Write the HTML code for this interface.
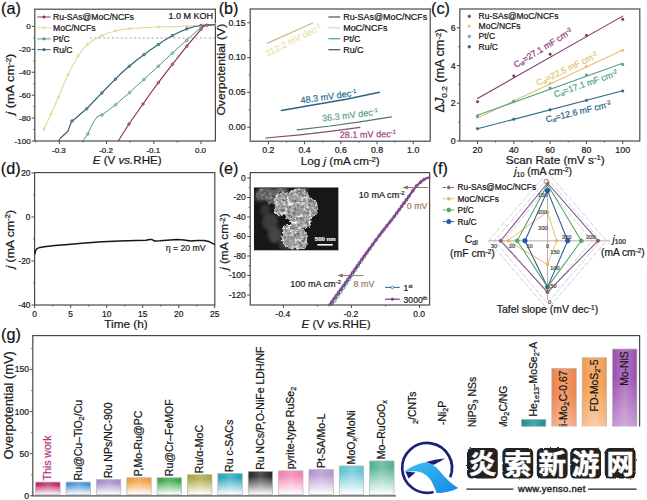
<!DOCTYPE html>
<html><head><meta charset="utf-8"><title>figure</title>
<style>
html,body{margin:0;padding:0;background:#ffffff;}
body{width:647px;height:500px;overflow:hidden;}
svg{display:block;font-family:'Liberation Sans', sans-serif;}
text{stroke-width:0.22px;paint-order:stroke fill;}
</style></head><body>
<svg width="647" height="500" viewBox="0 0 647 500">
<rect x="0" y="0" width="647" height="500" fill="#ffffff"/>
<defs>
<clipPath id="semclip"><rect x="253.8" y="187.3" width="84.8" height="63.3"/></clipPath>
<filter id="semblur" x="-20%" y="-20%" width="140%" height="140%"><feGaussianBlur stdDeviation="1.6"/></filter>
<filter id="semtex" x="-10%" y="-10%" width="120%" height="120%" color-interpolation-filters="sRGB">
<feTurbulence type="fractalNoise" baseFrequency="0.33" numOctaves="3" seed="5" result="n"/>
<feDisplacementMap in="SourceGraphic" in2="n" scale="4.5" xChannelSelector="R" yChannelSelector="G" result="d"/>
<feGaussianBlur in="d" stdDeviation="0.55" result="db"/>
<feColorMatrix in="n" type="matrix" values="1.5 0 0 0 -0.25  1.5 0 0 0 -0.25  1.5 0 0 0 -0.25  0 0 0 0 1" result="ng"/>
<feComposite in="db" in2="ng" operator="arithmetic" k1="0.85" k2="0.68" k3="0" k4="0" result="m"/>
<feComposite in="m" in2="db" operator="in"/>
</filter>
<filter id="rough" x="-5%" y="-5%" width="110%" height="110%">
<feTurbulence type="fractalNoise" baseFrequency="0.22" numOctaves="2" seed="11" result="rn"/>
<feDisplacementMap in="SourceGraphic" in2="rn" scale="2.2" xChannelSelector="R" yChannelSelector="G"/>
</filter>
<linearGradient id="sheen" x1="0" y1="0" x2="1" y2="0"><stop offset="0" stop-color="#fff" stop-opacity="0"/><stop offset="0.5" stop-color="#fff" stop-opacity="0.22"/><stop offset="1" stop-color="#fff" stop-opacity="0"/></linearGradient>
</defs>
<rect x="34.8" y="9.2" width="180.60000000000002" height="131.8" fill="none" stroke="#4a4a4a" stroke-width="1.2"/>
<text x="1.00" y="14.00" font-size="16.2" fill="#111" stroke="#111" text-anchor="start" >(a)</text>
<line x1="31.80" y1="26.40" x2="34.80" y2="26.40" stroke="#4a4a4a" stroke-width="1" />
<text x="30.60" y="29.10" font-size="8.0" fill="#1a1a1a" stroke="#1a1a1a" text-anchor="end" >0</text>
<line x1="31.80" y1="49.32" x2="34.80" y2="49.32" stroke="#4a4a4a" stroke-width="1" />
<text x="30.60" y="52.02" font-size="8.0" fill="#1a1a1a" stroke="#1a1a1a" text-anchor="end" >-20</text>
<line x1="31.80" y1="72.24" x2="34.80" y2="72.24" stroke="#4a4a4a" stroke-width="1" />
<text x="30.60" y="74.94" font-size="8.0" fill="#1a1a1a" stroke="#1a1a1a" text-anchor="end" >-40</text>
<line x1="31.80" y1="95.16" x2="34.80" y2="95.16" stroke="#4a4a4a" stroke-width="1" />
<text x="30.60" y="97.86" font-size="8.0" fill="#1a1a1a" stroke="#1a1a1a" text-anchor="end" >-60</text>
<line x1="31.80" y1="118.08" x2="34.80" y2="118.08" stroke="#4a4a4a" stroke-width="1" />
<text x="30.60" y="120.78" font-size="8.0" fill="#1a1a1a" stroke="#1a1a1a" text-anchor="end" >-80</text>
<line x1="31.80" y1="141.00" x2="34.80" y2="141.00" stroke="#4a4a4a" stroke-width="1" />
<text x="30.60" y="143.70" font-size="8.0" fill="#1a1a1a" stroke="#1a1a1a" text-anchor="end" >-100</text>
<line x1="33.20" y1="37.86" x2="34.80" y2="37.86" stroke="#4a4a4a" stroke-width="0.8" />
<line x1="33.20" y1="60.78" x2="34.80" y2="60.78" stroke="#4a4a4a" stroke-width="0.8" />
<line x1="33.20" y1="83.70" x2="34.80" y2="83.70" stroke="#4a4a4a" stroke-width="0.8" />
<line x1="33.20" y1="106.62" x2="34.80" y2="106.62" stroke="#4a4a4a" stroke-width="0.8" />
<line x1="33.20" y1="129.54" x2="34.80" y2="129.54" stroke="#4a4a4a" stroke-width="0.8" />
<line x1="59.40" y1="141.00" x2="59.40" y2="144.00" stroke="#4a4a4a" stroke-width="1" />
<text x="58.90" y="152.80" font-size="8.0" fill="#1a1a1a" stroke="#1a1a1a" text-anchor="middle" >-0.3</text>
<line x1="106.60" y1="141.00" x2="106.60" y2="144.00" stroke="#4a4a4a" stroke-width="1" />
<text x="106.10" y="152.80" font-size="8.0" fill="#1a1a1a" stroke="#1a1a1a" text-anchor="middle" >-0.2</text>
<line x1="153.80" y1="141.00" x2="153.80" y2="144.00" stroke="#4a4a4a" stroke-width="1" />
<text x="153.30" y="152.80" font-size="8.0" fill="#1a1a1a" stroke="#1a1a1a" text-anchor="middle" >-0.1</text>
<line x1="201.00" y1="141.00" x2="201.00" y2="144.00" stroke="#4a4a4a" stroke-width="1" />
<text x="200.50" y="152.80" font-size="8.0" fill="#1a1a1a" stroke="#1a1a1a" text-anchor="middle" >0.0</text>
<line x1="35.80" y1="141.00" x2="35.80" y2="142.60" stroke="#4a4a4a" stroke-width="0.8" />
<line x1="83.00" y1="141.00" x2="83.00" y2="142.60" stroke="#4a4a4a" stroke-width="0.8" />
<line x1="130.20" y1="141.00" x2="130.20" y2="142.60" stroke="#4a4a4a" stroke-width="0.8" />
<line x1="177.40" y1="141.00" x2="177.40" y2="142.60" stroke="#4a4a4a" stroke-width="0.8" />
<text x="127.20" y="164.40" font-size="11.6" fill="#1a1a1a" stroke="#1a1a1a" text-anchor="middle" ><tspan font-style="italic">E</tspan> (V <tspan font-style="italic">vs.</tspan>RHE)</text>
<text x="14.40" y="84.20" font-size="11" fill="#1a1a1a" stroke="#1a1a1a" text-anchor="middle" transform="rotate(-90 14.40 84.20)" textLength="61.2" lengthAdjust="spacingAndGlyphs" ><tspan font-style="italic">j</tspan> (mA cm<tspan dy="-3.4" font-size="62%">-2</tspan><tspan dy="3.4">&#8203;</tspan>)</text>
<line x1="90.00" y1="38.00" x2="215.40" y2="38.00" stroke="#9c9c9c" stroke-width="0.9" stroke-dasharray="2 2.4"/>
<path d="M44.00,129.00 L47.50,121.50 L51.00,114.00 L54.70,105.50 L58.50,97.00 L63.00,86.00 L68.00,74.80 L73.00,64.80 L78.00,56.00 L83.00,49.20 L87.80,44.00 L95.00,39.00 L102.00,35.60 L108.00,33.00 L115.40,31.00 L122.00,29.70 L129.70,28.70 L144.00,27.60 L158.40,27.00 L172.00,26.60 L186.80,26.20 L201.00,25.30 L215.00,24.60" fill="none" stroke="#e8da9e" stroke-width="1.2" stroke-linejoin="round" stroke-linecap="round" />
<circle cx="44.00" cy="129.00" r="1.2" fill="#e8da9e" stroke="#e8da9e" stroke-width="0.7"/>
<circle cx="51.00" cy="114.00" r="1.2" fill="#e8da9e" stroke="#e8da9e" stroke-width="0.7"/>
<circle cx="58.50" cy="97.00" r="1.2" fill="#e8da9e" stroke="#e8da9e" stroke-width="0.7"/>
<circle cx="68.00" cy="74.80" r="1.2" fill="#e8da9e" stroke="#e8da9e" stroke-width="0.7"/>
<circle cx="78.00" cy="56.00" r="1.2" fill="#e8da9e" stroke="#e8da9e" stroke-width="0.7"/>
<circle cx="87.80" cy="44.00" r="1.2" fill="#e8da9e" stroke="#e8da9e" stroke-width="0.7"/>
<circle cx="102.00" cy="35.60" r="1.2" fill="#e8da9e" stroke="#e8da9e" stroke-width="0.7"/>
<circle cx="115.40" cy="31.00" r="1.2" fill="#e8da9e" stroke="#e8da9e" stroke-width="0.7"/>
<circle cx="129.70" cy="28.70" r="1.2" fill="#e8da9e" stroke="#e8da9e" stroke-width="0.7"/>
<circle cx="158.40" cy="27.00" r="1.2" fill="#e8da9e" stroke="#e8da9e" stroke-width="0.7"/>
<circle cx="186.80" cy="26.20" r="1.2" fill="#e8da9e" stroke="#e8da9e" stroke-width="0.7"/>
<circle cx="215.00" cy="24.60" r="1.2" fill="#e8da9e" stroke="#e8da9e" stroke-width="0.7"/>
<path d="M58.50,141.00 L61.00,137.50 L65.00,134.00 L68.00,131.00 L69.50,127.00 L71.40,121.80 L76.00,118.00 L81.00,113.50 L86.70,108.80 L94.00,101.00 L101.90,92.90 L108.00,86.50 L115.40,79.20 L122.00,72.50 L129.30,66.20 L136.50,60.20 L144.00,54.70 L151.00,49.40 L158.40,44.50 L165.00,39.90 L172.40,35.60 L179.50,32.00 L186.80,28.90 L194.00,26.80 L201.00,25.50 L207.00,24.80 L215.00,24.50" fill="none" stroke="#2d5f78" stroke-width="1.15" stroke-linejoin="round" stroke-linecap="round" />
<circle cx="72.00" cy="121.00" r="1.3" fill="#6f97a8" stroke="#2d5f78" stroke-width="0.7"/>
<circle cx="86.70" cy="108.80" r="1.3" fill="#6f97a8" stroke="#2d5f78" stroke-width="0.7"/>
<circle cx="101.90" cy="92.90" r="1.3" fill="#6f97a8" stroke="#2d5f78" stroke-width="0.7"/>
<circle cx="115.40" cy="79.20" r="1.3" fill="#6f97a8" stroke="#2d5f78" stroke-width="0.7"/>
<circle cx="129.30" cy="66.20" r="1.3" fill="#6f97a8" stroke="#2d5f78" stroke-width="0.7"/>
<circle cx="144.00" cy="54.70" r="1.3" fill="#6f97a8" stroke="#2d5f78" stroke-width="0.7"/>
<circle cx="158.40" cy="44.50" r="1.3" fill="#6f97a8" stroke="#2d5f78" stroke-width="0.7"/>
<circle cx="172.40" cy="35.60" r="1.3" fill="#6f97a8" stroke="#2d5f78" stroke-width="0.7"/>
<circle cx="186.80" cy="28.90" r="1.3" fill="#6f97a8" stroke="#2d5f78" stroke-width="0.7"/>
<circle cx="201.00" cy="25.50" r="1.3" fill="#6f97a8" stroke="#2d5f78" stroke-width="0.7"/>
<path d="M82.70,141.00 L85.00,138.00 L87.80,134.00 L91.00,127.00 L94.00,121.00 L97.00,117.00 L100.00,115.60 L102.00,115.00 L108.00,110.50 L115.60,104.80 L122.00,99.00 L129.70,92.60 L136.50,86.00 L144.00,79.40 L151.00,72.80 L158.40,66.20 L165.00,59.80 L172.40,53.20 L179.50,46.60 L186.80,40.20 L194.00,33.60 L201.10,27.30 L205.00,25.20 L210.00,24.60 L215.00,24.50" fill="none" stroke="#4f9676" stroke-width="1.0" stroke-linejoin="round" stroke-linecap="round" />
<circle cx="87.80" cy="134.00" r="1.3" fill="#a6d2bd" stroke="#4f9676" stroke-width="0.7"/>
<circle cx="102.00" cy="115.00" r="1.3" fill="#a6d2bd" stroke="#4f9676" stroke-width="0.7"/>
<circle cx="115.60" cy="104.80" r="1.3" fill="#a6d2bd" stroke="#4f9676" stroke-width="0.7"/>
<circle cx="129.70" cy="92.60" r="1.3" fill="#a6d2bd" stroke="#4f9676" stroke-width="0.7"/>
<circle cx="144.00" cy="79.40" r="1.3" fill="#a6d2bd" stroke="#4f9676" stroke-width="0.7"/>
<circle cx="158.40" cy="66.20" r="1.3" fill="#a6d2bd" stroke="#4f9676" stroke-width="0.7"/>
<circle cx="172.40" cy="53.20" r="1.3" fill="#a6d2bd" stroke="#4f9676" stroke-width="0.7"/>
<circle cx="186.80" cy="40.20" r="1.3" fill="#a6d2bd" stroke="#4f9676" stroke-width="0.7"/>
<circle cx="201.10" cy="27.30" r="1.3" fill="#a6d2bd" stroke="#4f9676" stroke-width="0.7"/>
<path d="M118.40,141.00 L122.00,135.00 L125.50,129.50 L129.00,124.00 L136.00,114.00 L143.00,104.00 L150.00,94.00 L158.40,82.60 L165.00,73.80 L172.40,64.40 L179.50,55.40 L186.80,46.20 L194.00,37.60 L201.10,29.30 L203.60,26.40 L206.50,25.20 L215.00,25.00" fill="none" stroke="#8a2f5c" stroke-width="1.15" stroke-linejoin="round" stroke-linecap="round" />
<circle cx="129.00" cy="124.00" r="1.3" fill="#c77a9c" stroke="#8a2f5c" stroke-width="0.7"/>
<circle cx="143.00" cy="104.00" r="1.3" fill="#c77a9c" stroke="#8a2f5c" stroke-width="0.7"/>
<circle cx="158.40" cy="82.60" r="1.3" fill="#c77a9c" stroke="#8a2f5c" stroke-width="0.7"/>
<circle cx="172.40" cy="64.40" r="1.3" fill="#c77a9c" stroke="#8a2f5c" stroke-width="0.7"/>
<circle cx="186.80" cy="46.20" r="1.3" fill="#c77a9c" stroke="#8a2f5c" stroke-width="0.7"/>
<circle cx="201.10" cy="29.30" r="1.3" fill="#c77a9c" stroke="#8a2f5c" stroke-width="0.7"/>
<circle cx="207.00" cy="25.20" r="1.3" fill="#c77a9c" stroke="#8a2f5c" stroke-width="0.7"/>
<line x1="37.20" y1="17.00" x2="50.60" y2="17.00" stroke="#8a2f5c" stroke-width="0.95" />
<circle cx="44.00" cy="17.00" r="1.15" fill="#8a2f5c" stroke="#8a2f5c" stroke-width="0.7"/>
<text x="53.00" y="20.00" font-size="8.6" fill="#151515" stroke="#151515" text-anchor="start" >Ru-SAs@MoC/NCFs</text>
<line x1="37.20" y1="27.80" x2="50.60" y2="27.80" stroke="#e8da9e" stroke-width="0.95" />
<circle cx="44.00" cy="27.80" r="1.15" fill="#e8da9e" stroke="#e8da9e" stroke-width="0.7"/>
<text x="53.00" y="30.80" font-size="8.6" fill="#151515" stroke="#151515" text-anchor="start" >MoC/NCFs</text>
<line x1="37.20" y1="38.90" x2="50.60" y2="38.90" stroke="#4f9676" stroke-width="0.95" />
<circle cx="44.00" cy="38.90" r="1.15" fill="#4f9676" stroke="#4f9676" stroke-width="0.7"/>
<text x="53.00" y="41.90" font-size="8.6" fill="#151515" stroke="#151515" text-anchor="start" >Pt/C</text>
<line x1="37.20" y1="49.70" x2="50.60" y2="49.70" stroke="#2d5f78" stroke-width="0.95" />
<circle cx="44.00" cy="49.70" r="1.15" fill="#2d5f78" stroke="#2d5f78" stroke-width="0.7"/>
<text x="53.00" y="52.70" font-size="8.6" fill="#151515" stroke="#151515" text-anchor="start" >Ru/C</text>
<text x="213.00" y="19.00" font-size="9.0" fill="#151515" stroke="#151515" text-anchor="end" >1.0 M KOH</text>
<rect x="250.2" y="9.0" width="180.0" height="132.2" fill="none" stroke="#4a4a4a" stroke-width="1.2"/>
<text x="218.70" y="13.90" font-size="16.2" fill="#111" stroke="#111" text-anchor="start" >(b)</text>
<line x1="247.20" y1="127.20" x2="250.20" y2="127.20" stroke="#4a4a4a" stroke-width="1" />
<text x="245.60" y="129.90" font-size="8.8" fill="#1a1a1a" stroke="#1a1a1a" text-anchor="end" >0.00</text>
<line x1="247.20" y1="92.40" x2="250.20" y2="92.40" stroke="#4a4a4a" stroke-width="1" />
<text x="245.60" y="95.10" font-size="8.8" fill="#1a1a1a" stroke="#1a1a1a" text-anchor="end" >0.05</text>
<line x1="247.20" y1="57.60" x2="250.20" y2="57.60" stroke="#4a4a4a" stroke-width="1" />
<text x="245.60" y="60.30" font-size="8.8" fill="#1a1a1a" stroke="#1a1a1a" text-anchor="end" >0.10</text>
<line x1="247.20" y1="22.80" x2="250.20" y2="22.80" stroke="#4a4a4a" stroke-width="1" />
<text x="245.60" y="25.50" font-size="8.8" fill="#1a1a1a" stroke="#1a1a1a" text-anchor="end" >0.15</text>
<line x1="248.60" y1="109.80" x2="250.20" y2="109.80" stroke="#4a4a4a" stroke-width="0.8" />
<line x1="248.60" y1="75.00" x2="250.20" y2="75.00" stroke="#4a4a4a" stroke-width="0.8" />
<line x1="248.60" y1="40.20" x2="250.20" y2="40.20" stroke="#4a4a4a" stroke-width="0.8" />
<line x1="268.40" y1="141.20" x2="268.40" y2="144.20" stroke="#4a4a4a" stroke-width="1" />
<text x="268.40" y="153.20" font-size="8.8" fill="#1a1a1a" stroke="#1a1a1a" text-anchor="middle" >0.2</text>
<line x1="304.60" y1="141.20" x2="304.60" y2="144.20" stroke="#4a4a4a" stroke-width="1" />
<text x="304.60" y="153.20" font-size="8.8" fill="#1a1a1a" stroke="#1a1a1a" text-anchor="middle" >0.4</text>
<line x1="340.80" y1="141.20" x2="340.80" y2="144.20" stroke="#4a4a4a" stroke-width="1" />
<text x="340.80" y="153.20" font-size="8.8" fill="#1a1a1a" stroke="#1a1a1a" text-anchor="middle" >0.6</text>
<line x1="377.00" y1="141.20" x2="377.00" y2="144.20" stroke="#4a4a4a" stroke-width="1" />
<text x="377.00" y="153.20" font-size="8.8" fill="#1a1a1a" stroke="#1a1a1a" text-anchor="middle" >0.8</text>
<line x1="413.20" y1="141.20" x2="413.20" y2="144.20" stroke="#4a4a4a" stroke-width="1" />
<text x="413.20" y="153.20" font-size="8.8" fill="#1a1a1a" stroke="#1a1a1a" text-anchor="middle" >1.0</text>
<line x1="286.50" y1="141.20" x2="286.50" y2="142.80" stroke="#4a4a4a" stroke-width="0.8" />
<line x1="322.70" y1="141.20" x2="322.70" y2="142.80" stroke="#4a4a4a" stroke-width="0.8" />
<line x1="358.90" y1="141.20" x2="358.90" y2="142.80" stroke="#4a4a4a" stroke-width="0.8" />
<line x1="395.10" y1="141.20" x2="395.10" y2="142.80" stroke="#4a4a4a" stroke-width="0.8" />
<text x="340.20" y="165.20" font-size="11.7" fill="#1a1a1a" stroke="#1a1a1a" text-anchor="middle" >Log <tspan font-style="italic">j</tspan> (mA cm<tspan dy="-3.6" font-size="66%">-2</tspan><tspan dy="3.6">&#8203;</tspan>)</text>
<text x="224.60" y="69.70" font-size="11" fill="#1a1a1a" stroke="#1a1a1a" text-anchor="middle" transform="rotate(-90 224.60 69.70)" textLength="91.8" lengthAdjust="spacingAndGlyphs" >Overpotential (V)</text>
<path d="M267.60,43.20 L312.70,23.00" fill="none" stroke="#c3bb90" stroke-width="1.3" stroke-linejoin="round" stroke-linecap="round" />
<path d="M281.40,110.40 L310.00,105.60 L345.00,99.40 L379.40,92.20" fill="none" stroke="#2c6480" stroke-width="1.5" stroke-linejoin="round" stroke-linecap="round" />
<path d="M297.20,129.80 L330.00,126.00 L360.00,121.80 L391.40,116.80" fill="none" stroke="#4a7c69" stroke-width="1.25" stroke-linejoin="round" stroke-linecap="round" />
<path d="M265.70,138.00 L300.00,134.80 L330.00,131.40 L359.90,127.40" fill="none" stroke="#83506e" stroke-width="1.2" stroke-linejoin="round" stroke-linecap="round" />
<text x="267.60" y="56.60" font-size="9.1" fill="#ebe2ae" stroke="#ebe2ae" text-anchor="start" transform="rotate(-26.5 267.60 56.60)" >112.2 mV dec<tspan dy="-3.0" font-size="66%">-1</tspan><tspan dy="3.0">&#8203;</tspan></text>
<text x="301.00" y="103.60" font-size="9.1" fill="#2f7193" stroke="#2f7193" text-anchor="start" transform="rotate(-8 301.00 103.60)" >48.3 mV dec<tspan dy="-3.0" font-size="66%">-1</tspan><tspan dy="3.0">&#8203;</tspan></text>
<text x="322.40" y="121.60" font-size="9.1" fill="#5ea785" stroke="#5ea785" text-anchor="start" transform="rotate(-7 322.40 121.60)" >36.3 mV dec<tspan dy="-3.0" font-size="66%">-1</tspan><tspan dy="3.0">&#8203;</tspan></text>
<text x="339.80" y="138.00" font-size="9.1" fill="#a3457f" stroke="#a3457f" text-anchor="start" transform="rotate(-1 339.80 138.00)" >28.1 mV dec<tspan dy="-3.0" font-size="66%">-1</tspan><tspan dy="3.0">&#8203;</tspan></text>
<line x1="328.40" y1="17.00" x2="340.20" y2="17.00" stroke="#5e4566" stroke-width="1.2" />
<text x="343.20" y="20.10" font-size="8.95" fill="#151515" stroke="#151515" text-anchor="start" >Ru-SAs@MoC/NCFs</text>
<line x1="328.40" y1="27.80" x2="340.20" y2="27.80" stroke="#e4d6b4" stroke-width="1.2" />
<text x="343.20" y="30.90" font-size="8.95" fill="#151515" stroke="#151515" text-anchor="start" >MoC/NCFs</text>
<line x1="328.40" y1="38.70" x2="340.20" y2="38.70" stroke="#4f9f90" stroke-width="1.2" />
<text x="343.20" y="41.80" font-size="8.95" fill="#151515" stroke="#151515" text-anchor="start" >Pt/C</text>
<line x1="328.40" y1="49.70" x2="340.20" y2="49.70" stroke="#4a4c5a" stroke-width="1.2" />
<text x="343.20" y="52.80" font-size="8.95" fill="#151515" stroke="#151515" text-anchor="start" >Ru/C</text>
<rect x="459.8" y="9.0" width="179.99999999999994" height="132.0" fill="none" stroke="#4a4a4a" stroke-width="1.2"/>
<text x="431.00" y="13.90" font-size="16.2" fill="#111" stroke="#111" text-anchor="start" >(c)</text>
<line x1="456.80" y1="140.90" x2="459.80" y2="140.90" stroke="#4a4a4a" stroke-width="1" />
<text x="455.60" y="143.90" font-size="8.8" fill="#1a1a1a" stroke="#1a1a1a" text-anchor="end" >0</text>
<line x1="456.80" y1="103.20" x2="459.80" y2="103.20" stroke="#4a4a4a" stroke-width="1" />
<text x="455.60" y="106.20" font-size="8.8" fill="#1a1a1a" stroke="#1a1a1a" text-anchor="end" >2</text>
<line x1="456.80" y1="65.50" x2="459.80" y2="65.50" stroke="#4a4a4a" stroke-width="1" />
<text x="455.60" y="68.50" font-size="8.8" fill="#1a1a1a" stroke="#1a1a1a" text-anchor="end" >4</text>
<line x1="456.80" y1="27.80" x2="459.80" y2="27.80" stroke="#4a4a4a" stroke-width="1" />
<text x="455.60" y="30.80" font-size="8.8" fill="#1a1a1a" stroke="#1a1a1a" text-anchor="end" >6</text>
<line x1="458.20" y1="122.05" x2="459.80" y2="122.05" stroke="#4a4a4a" stroke-width="0.8" />
<line x1="458.20" y1="84.35" x2="459.80" y2="84.35" stroke="#4a4a4a" stroke-width="0.8" />
<line x1="458.20" y1="46.65" x2="459.80" y2="46.65" stroke="#4a4a4a" stroke-width="0.8" />
<line x1="477.50" y1="141.00" x2="477.50" y2="144.00" stroke="#4a4a4a" stroke-width="1" />
<text x="477.50" y="152.80" font-size="8.8" fill="#1a1a1a" stroke="#1a1a1a" text-anchor="middle" >20</text>
<line x1="513.80" y1="141.00" x2="513.80" y2="144.00" stroke="#4a4a4a" stroke-width="1" />
<text x="513.80" y="152.80" font-size="8.8" fill="#1a1a1a" stroke="#1a1a1a" text-anchor="middle" >40</text>
<line x1="550.10" y1="141.00" x2="550.10" y2="144.00" stroke="#4a4a4a" stroke-width="1" />
<text x="550.10" y="152.80" font-size="8.8" fill="#1a1a1a" stroke="#1a1a1a" text-anchor="middle" >60</text>
<line x1="586.40" y1="141.00" x2="586.40" y2="144.00" stroke="#4a4a4a" stroke-width="1" />
<text x="586.40" y="152.80" font-size="8.8" fill="#1a1a1a" stroke="#1a1a1a" text-anchor="middle" >80</text>
<line x1="622.70" y1="141.00" x2="622.70" y2="144.00" stroke="#4a4a4a" stroke-width="1" />
<text x="622.70" y="152.80" font-size="8.8" fill="#1a1a1a" stroke="#1a1a1a" text-anchor="middle" >100</text>
<line x1="495.65" y1="141.00" x2="495.65" y2="142.60" stroke="#4a4a4a" stroke-width="0.8" />
<line x1="531.95" y1="141.00" x2="531.95" y2="142.60" stroke="#4a4a4a" stroke-width="0.8" />
<line x1="568.25" y1="141.00" x2="568.25" y2="142.60" stroke="#4a4a4a" stroke-width="0.8" />
<line x1="604.55" y1="141.00" x2="604.55" y2="142.60" stroke="#4a4a4a" stroke-width="0.8" />
<text x="555.20" y="164.00" font-size="11.7" fill="#1a1a1a" stroke="#1a1a1a" text-anchor="middle" >Scan Rate (mV s<tspan dy="-3.6" font-size="66%">-1</tspan><tspan dy="3.6">&#8203;</tspan>)</text>
<text x="444.20" y="70.40" font-size="12" fill="#1a1a1a" stroke="#1a1a1a" text-anchor="middle" transform="rotate(-90 444.20 70.40)" textLength="84" lengthAdjust="spacingAndGlyphs" >&#916;<tspan font-style="italic">J</tspan><tspan dy="2.4" font-size="66%">0.2</tspan><tspan dy="-2.4">&#8203;</tspan> (mA cm<tspan dy="-3.6" font-size="62%">-2</tspan><tspan dy="3.6">&#8203;</tspan>)</text>
<path d="M477.50,98.49 L622.70,16.11" fill="none" stroke="#7c3860" stroke-width="1.05" stroke-linejoin="round" stroke-linecap="round" />
<circle cx="477.50" cy="101.69" r="1.2" fill="#7d3a6a" stroke="#7d3a6a" stroke-width="0.7"/>
<circle cx="513.80" cy="75.87" r="1.2" fill="#7d3a6a" stroke="#7d3a6a" stroke-width="0.7"/>
<circle cx="550.10" cy="54.19" r="1.2" fill="#7d3a6a" stroke="#7d3a6a" stroke-width="0.7"/>
<circle cx="586.40" cy="35.34" r="1.2" fill="#7d3a6a" stroke="#7d3a6a" stroke-width="0.7"/>
<circle cx="622.70" cy="19.32" r="1.2" fill="#7d3a6a" stroke="#7d3a6a" stroke-width="0.7"/>
<path d="M477.50,117.90 L622.70,50.04" fill="none" stroke="#e8c06a" stroke-width="1.05" stroke-linejoin="round" stroke-linecap="round" />
<circle cx="477.50" cy="117.34" r="1.2" fill="#e8c06a" stroke="#e8c06a" stroke-width="0.7"/>
<circle cx="513.80" cy="101.31" r="1.2" fill="#e8c06a" stroke="#e8c06a" stroke-width="0.7"/>
<circle cx="550.10" cy="83.41" r="1.2" fill="#e8c06a" stroke="#e8c06a" stroke-width="0.7"/>
<circle cx="586.40" cy="66.44" r="1.2" fill="#e8c06a" stroke="#e8c06a" stroke-width="0.7"/>
<circle cx="622.70" cy="50.42" r="1.2" fill="#e8c06a" stroke="#e8c06a" stroke-width="0.7"/>
<path d="M477.50,115.26 L622.70,63.24" fill="none" stroke="#4fa585" stroke-width="1.05" stroke-linejoin="round" stroke-linecap="round" />
<circle cx="477.50" cy="116.02" r="1.2" fill="#4fa585" stroke="#4fa585" stroke-width="0.7"/>
<circle cx="513.80" cy="101.31" r="1.2" fill="#4fa585" stroke="#4fa585" stroke-width="0.7"/>
<circle cx="550.10" cy="88.12" r="1.2" fill="#4fa585" stroke="#4fa585" stroke-width="0.7"/>
<circle cx="586.40" cy="74.92" r="1.2" fill="#4fa585" stroke="#4fa585" stroke-width="0.7"/>
<circle cx="622.70" cy="64.56" r="1.2" fill="#4fa585" stroke="#4fa585" stroke-width="0.7"/>
<path d="M477.50,128.84 L622.70,90.76" fill="none" stroke="#2d6a86" stroke-width="1.05" stroke-linejoin="round" stroke-linecap="round" />
<circle cx="477.50" cy="128.65" r="1.2" fill="#2d6a86" stroke="#2d6a86" stroke-width="0.7"/>
<circle cx="513.80" cy="119.22" r="1.2" fill="#2d6a86" stroke="#2d6a86" stroke-width="0.7"/>
<circle cx="550.10" cy="109.80" r="1.2" fill="#2d6a86" stroke="#2d6a86" stroke-width="0.7"/>
<circle cx="586.40" cy="100.37" r="1.2" fill="#2d6a86" stroke="#2d6a86" stroke-width="0.7"/>
<circle cx="622.70" cy="90.95" r="1.2" fill="#2d6a86" stroke="#2d6a86" stroke-width="0.7"/>
<text x="516.00" y="68.00" font-size="8.8" fill="#8a3a78" stroke="#8a3a78" text-anchor="start" transform="rotate(-31.5 516.00 68.00)" >C<tspan dy="1.2" font-size="55%">dl</tspan><tspan dy="-1.2">&#8203;</tspan>=27.1 mF cm<tspan dy="-2.9" font-size="66%">-2</tspan><tspan dy="2.9">&#8203;</tspan></text>
<text x="538.00" y="86.00" font-size="8.8" fill="#e6c36a" stroke="#e6c36a" text-anchor="start" transform="rotate(-25.5 538.00 86.00)" >C<tspan dy="1.2" font-size="55%">dl</tspan><tspan dy="-1.2">&#8203;</tspan>=22.5 mF cm<tspan dy="-2.9" font-size="66%">-2</tspan><tspan dy="2.9">&#8203;</tspan></text>
<text x="555.00" y="97.50" font-size="8.8" fill="#4fa585" stroke="#4fa585" text-anchor="start" transform="rotate(-19 555.00 97.50)" >C<tspan dy="1.2" font-size="55%">dl</tspan><tspan dy="-1.2">&#8203;</tspan>=17.1 mF cm<tspan dy="-2.9" font-size="66%">-2</tspan><tspan dy="2.9">&#8203;</tspan></text>
<text x="546.50" y="122.50" font-size="8.8" fill="#2a6384" stroke="#2a6384" text-anchor="start" transform="rotate(-13.5 546.50 122.50)" >C<tspan dy="1.2" font-size="55%">dl</tspan><tspan dy="-1.2">&#8203;</tspan>=12.6 mF cm<tspan dy="-2.9" font-size="66%">-2</tspan><tspan dy="2.9">&#8203;</tspan></text>
<circle cx="469.30" cy="16.30" r="1.3" fill="#7d3a6a" stroke="#7d3a6a" stroke-width="0.7"/>
<text x="478.60" y="19.20" font-size="8.5" fill="#151515" stroke="#151515" text-anchor="start" >Ru-SAs@MoC/NCFs</text>
<circle cx="469.30" cy="26.20" r="1.3" fill="#e9c978" stroke="#e9c978" stroke-width="0.7"/>
<text x="478.60" y="29.10" font-size="8.5" fill="#151515" stroke="#151515" text-anchor="start" >MoC/NCFs</text>
<circle cx="469.30" cy="36.40" r="1.3" fill="#6fae9a" stroke="#6fae9a" stroke-width="0.7"/>
<text x="478.60" y="39.30" font-size="8.5" fill="#151515" stroke="#151515" text-anchor="start" >Pt/C</text>
<circle cx="469.30" cy="46.80" r="1.3" fill="#3a5a6a" stroke="#3a5a6a" stroke-width="0.7"/>
<text x="478.60" y="49.70" font-size="8.5" fill="#151515" stroke="#151515" text-anchor="start" >Ru/C</text>
<rect x="34.6" y="172.6" width="180.20000000000002" height="132.4" fill="none" stroke="#4a4a4a" stroke-width="1.2"/>
<text x="0.80" y="174.40" font-size="16.2" fill="#111" stroke="#111" text-anchor="start" >(d)</text>
<line x1="31.60" y1="173.00" x2="34.60" y2="173.00" stroke="#4a4a4a" stroke-width="1" />
<text x="30.40" y="175.90" font-size="8.3" fill="#1a1a1a" stroke="#1a1a1a" text-anchor="end" >20</text>
<line x1="31.60" y1="217.00" x2="34.60" y2="217.00" stroke="#4a4a4a" stroke-width="1" />
<text x="30.40" y="219.90" font-size="8.3" fill="#1a1a1a" stroke="#1a1a1a" text-anchor="end" >0</text>
<line x1="31.60" y1="261.00" x2="34.60" y2="261.00" stroke="#4a4a4a" stroke-width="1" />
<text x="30.40" y="263.90" font-size="8.3" fill="#1a1a1a" stroke="#1a1a1a" text-anchor="end" >-20</text>
<line x1="31.60" y1="305.00" x2="34.60" y2="305.00" stroke="#4a4a4a" stroke-width="1" />
<text x="30.40" y="307.90" font-size="8.3" fill="#1a1a1a" stroke="#1a1a1a" text-anchor="end" >-40</text>
<line x1="33.00" y1="195.00" x2="34.60" y2="195.00" stroke="#4a4a4a" stroke-width="0.8" />
<line x1="33.00" y1="239.00" x2="34.60" y2="239.00" stroke="#4a4a4a" stroke-width="0.8" />
<line x1="33.00" y1="283.00" x2="34.60" y2="283.00" stroke="#4a4a4a" stroke-width="0.8" />
<line x1="34.70" y1="305.00" x2="34.70" y2="308.00" stroke="#4a4a4a" stroke-width="1" />
<text x="34.70" y="317.20" font-size="8.4" fill="#1a1a1a" stroke="#1a1a1a" text-anchor="middle" >0</text>
<line x1="70.70" y1="305.00" x2="70.70" y2="308.00" stroke="#4a4a4a" stroke-width="1" />
<text x="70.70" y="317.20" font-size="8.4" fill="#1a1a1a" stroke="#1a1a1a" text-anchor="middle" >5</text>
<line x1="106.70" y1="305.00" x2="106.70" y2="308.00" stroke="#4a4a4a" stroke-width="1" />
<text x="106.70" y="317.20" font-size="8.4" fill="#1a1a1a" stroke="#1a1a1a" text-anchor="middle" >10</text>
<line x1="142.70" y1="305.00" x2="142.70" y2="308.00" stroke="#4a4a4a" stroke-width="1" />
<text x="142.70" y="317.20" font-size="8.4" fill="#1a1a1a" stroke="#1a1a1a" text-anchor="middle" >15</text>
<line x1="178.70" y1="305.00" x2="178.70" y2="308.00" stroke="#4a4a4a" stroke-width="1" />
<text x="178.70" y="317.20" font-size="8.4" fill="#1a1a1a" stroke="#1a1a1a" text-anchor="middle" >20</text>
<line x1="214.70" y1="305.00" x2="214.70" y2="308.00" stroke="#4a4a4a" stroke-width="1" />
<text x="214.70" y="317.20" font-size="8.4" fill="#1a1a1a" stroke="#1a1a1a" text-anchor="middle" >25</text>
<line x1="52.70" y1="305.00" x2="52.70" y2="306.60" stroke="#4a4a4a" stroke-width="0.8" />
<line x1="88.70" y1="305.00" x2="88.70" y2="306.60" stroke="#4a4a4a" stroke-width="0.8" />
<line x1="124.70" y1="305.00" x2="124.70" y2="306.60" stroke="#4a4a4a" stroke-width="0.8" />
<line x1="160.70" y1="305.00" x2="160.70" y2="306.60" stroke="#4a4a4a" stroke-width="0.8" />
<line x1="196.70" y1="305.00" x2="196.70" y2="306.60" stroke="#4a4a4a" stroke-width="0.8" />
<text x="126.00" y="328.40" font-size="11.8" fill="#1a1a1a" stroke="#1a1a1a" text-anchor="middle" >Time (h)</text>
<text x="13.60" y="239.30" font-size="11" fill="#1a1a1a" stroke="#1a1a1a" text-anchor="middle" transform="rotate(-90 13.60 239.30)" textLength="58.6" lengthAdjust="spacingAndGlyphs" ><tspan font-style="italic">j</tspan> (mA cm<tspan dy="-3.4" font-size="62%">-2</tspan><tspan dy="3.4">&#8203;</tspan>)</text>
<path d="M34.80,253.80 L35.60,250.60 L37.00,248.60 L40.00,247.40 L44.20,246.70 L55.00,245.60 L68.00,244.40 L85.00,242.90 L102.00,241.70 L120.00,241.00 L136.00,240.50 L146.00,240.20 L149.70,239.40 L152.00,239.60 L154.60,241.00 L160.00,240.80 L170.00,240.00 L177.00,239.40 L184.00,239.90 L190.50,240.90 L197.00,240.40 L204.00,240.40 L209.00,241.60 L214.50,244.40" fill="none" stroke="#161616" stroke-width="1.5" stroke-linejoin="round" stroke-linecap="round" />
<text x="165.80" y="251.30" font-size="8.7" fill="#222" stroke="#222" text-anchor="start" >&#951; = 20 mV</text>
<text x="218.70" y="174.00" font-size="16.2" fill="#111" stroke="#111" text-anchor="start" >(e)</text>
<line x1="247.20" y1="178.00" x2="250.20" y2="178.00" stroke="#4a4a4a" stroke-width="1" />
<text x="245.80" y="180.90" font-size="8.5" fill="#1a1a1a" stroke="#1a1a1a" text-anchor="end" >0</text>
<line x1="247.20" y1="197.50" x2="250.20" y2="197.50" stroke="#4a4a4a" stroke-width="1" />
<text x="245.80" y="200.40" font-size="8.5" fill="#1a1a1a" stroke="#1a1a1a" text-anchor="end" >-20</text>
<line x1="247.20" y1="217.00" x2="250.20" y2="217.00" stroke="#4a4a4a" stroke-width="1" />
<text x="245.80" y="219.90" font-size="8.5" fill="#1a1a1a" stroke="#1a1a1a" text-anchor="end" >-40</text>
<line x1="247.20" y1="236.50" x2="250.20" y2="236.50" stroke="#4a4a4a" stroke-width="1" />
<text x="245.80" y="239.40" font-size="8.5" fill="#1a1a1a" stroke="#1a1a1a" text-anchor="end" >-60</text>
<line x1="247.20" y1="256.00" x2="250.20" y2="256.00" stroke="#4a4a4a" stroke-width="1" />
<text x="245.80" y="258.90" font-size="8.5" fill="#1a1a1a" stroke="#1a1a1a" text-anchor="end" >-80</text>
<line x1="247.20" y1="275.50" x2="250.20" y2="275.50" stroke="#4a4a4a" stroke-width="1" />
<text x="245.80" y="278.40" font-size="8.5" fill="#1a1a1a" stroke="#1a1a1a" text-anchor="end" >-100</text>
<line x1="247.20" y1="295.00" x2="250.20" y2="295.00" stroke="#4a4a4a" stroke-width="1" />
<text x="245.80" y="297.90" font-size="8.5" fill="#1a1a1a" stroke="#1a1a1a" text-anchor="end" >-120</text>
<line x1="248.60" y1="187.75" x2="250.20" y2="187.75" stroke="#4a4a4a" stroke-width="0.8" />
<line x1="248.60" y1="207.25" x2="250.20" y2="207.25" stroke="#4a4a4a" stroke-width="0.8" />
<line x1="248.60" y1="226.75" x2="250.20" y2="226.75" stroke="#4a4a4a" stroke-width="0.8" />
<line x1="248.60" y1="246.25" x2="250.20" y2="246.25" stroke="#4a4a4a" stroke-width="0.8" />
<line x1="248.60" y1="265.75" x2="250.20" y2="265.75" stroke="#4a4a4a" stroke-width="0.8" />
<line x1="248.60" y1="285.25" x2="250.20" y2="285.25" stroke="#4a4a4a" stroke-width="0.8" />
<line x1="283.40" y1="305.00" x2="283.40" y2="308.00" stroke="#4a4a4a" stroke-width="1" />
<text x="282.90" y="317.20" font-size="8.5" fill="#1a1a1a" stroke="#1a1a1a" text-anchor="middle" >-0.4</text>
<line x1="351.50" y1="305.00" x2="351.50" y2="308.00" stroke="#4a4a4a" stroke-width="1" />
<text x="351.00" y="317.20" font-size="8.5" fill="#1a1a1a" stroke="#1a1a1a" text-anchor="middle" >-0.2</text>
<line x1="419.60" y1="305.00" x2="419.60" y2="308.00" stroke="#4a4a4a" stroke-width="1" />
<text x="419.10" y="317.20" font-size="8.5" fill="#1a1a1a" stroke="#1a1a1a" text-anchor="middle" >0.0</text>
<line x1="317.45" y1="305.00" x2="317.45" y2="306.60" stroke="#4a4a4a" stroke-width="0.8" />
<line x1="385.55" y1="305.00" x2="385.55" y2="306.60" stroke="#4a4a4a" stroke-width="0.8" />
<text x="336.10" y="328.40" font-size="11.6" fill="#1a1a1a" stroke="#1a1a1a" text-anchor="middle" ><tspan font-style="italic">E</tspan> (V <tspan font-style="italic">vs.</tspan>RHE)</text>
<text x="228.20" y="241.70" font-size="11" fill="#1a1a1a" stroke="#1a1a1a" text-anchor="middle" transform="rotate(-90 228.20 241.70)" textLength="56.7" lengthAdjust="spacingAndGlyphs" ><tspan font-style="italic">j</tspan> (mA cm<tspan dy="-3.4" font-size="62%">-2</tspan><tspan dy="3.4">&#8203;</tspan>)</text>
<path d="M429.20,177.40 L426.50,178.20 L424.00,179.50 L420.50,182.20 L416.50,186.00 L412.80,190.80 L409.00,196.20 L401.60,206.40 L394.20,216.60 L386.80,225.90 L379.40,235.30 L375.70,240.20 L369.20,249.00 L366.40,252.80 L357.10,266.00 L347.80,279.40 L338.60,292.30 L329.40,305.00" fill="none" stroke="#eecbe4" stroke-width="3.6" stroke-linejoin="round" stroke-linecap="round" />
<path d="M429.20,177.40 L426.50,178.20 L424.00,179.50 L420.50,182.20 L416.50,186.00 L412.80,190.80 L409.00,196.20 L401.60,206.40 L394.20,216.60 L386.80,225.90 L379.59,235.30 L376.06,240.20 L369.87,249.00 L367.20,252.80 L358.36,266.00 L349.53,279.40 L340.78,292.30 L332.02,305.00" fill="none" stroke="#2e7a8c" stroke-width="1.2" stroke-linejoin="round" stroke-linecap="round" />
<circle cx="424.00" cy="179.50" r="1.25" fill="#ffffff" stroke="#3a5f86" stroke-width="0.6"/>
<circle cx="420.50" cy="182.20" r="1.25" fill="#ffffff" stroke="#3a5f86" stroke-width="0.6"/>
<circle cx="416.50" cy="186.00" r="1.25" fill="#ffffff" stroke="#3a5f86" stroke-width="0.6"/>
<circle cx="412.80" cy="190.80" r="1.25" fill="#ffffff" stroke="#3a5f86" stroke-width="0.6"/>
<circle cx="409.00" cy="196.20" r="1.25" fill="#ffffff" stroke="#3a5f86" stroke-width="0.6"/>
<circle cx="406.53" cy="199.60" r="1.25" fill="#ffffff" stroke="#3a5f86" stroke-width="0.6"/>
<circle cx="404.07" cy="203.00" r="1.25" fill="#ffffff" stroke="#3a5f86" stroke-width="0.6"/>
<circle cx="401.60" cy="206.40" r="1.25" fill="#ffffff" stroke="#3a5f86" stroke-width="0.6"/>
<circle cx="399.13" cy="209.80" r="1.25" fill="#ffffff" stroke="#3a5f86" stroke-width="0.6"/>
<circle cx="396.67" cy="213.20" r="1.25" fill="#ffffff" stroke="#3a5f86" stroke-width="0.6"/>
<circle cx="394.20" cy="216.60" r="1.25" fill="#ffffff" stroke="#3a5f86" stroke-width="0.6"/>
<circle cx="390.50" cy="221.25" r="1.25" fill="#ffffff" stroke="#3a5f86" stroke-width="0.6"/>
<circle cx="386.80" cy="225.90" r="1.25" fill="#ffffff" stroke="#3a5f86" stroke-width="0.6"/>
<circle cx="383.19" cy="230.60" r="1.25" fill="#ffffff" stroke="#3a5f86" stroke-width="0.6"/>
<circle cx="379.59" cy="235.30" r="1.25" fill="#ffffff" stroke="#3a5f86" stroke-width="0.6"/>
<circle cx="376.06" cy="240.20" r="1.25" fill="#ffffff" stroke="#3a5f86" stroke-width="0.6"/>
<circle cx="372.96" cy="244.60" r="1.25" fill="#ffffff" stroke="#3a5f86" stroke-width="0.6"/>
<circle cx="369.87" cy="249.00" r="1.25" fill="#ffffff" stroke="#3a5f86" stroke-width="0.6"/>
<circle cx="367.20" cy="252.80" r="1.25" fill="#ffffff" stroke="#3a5f86" stroke-width="0.6"/>
<circle cx="364.25" cy="257.20" r="1.25" fill="#ffffff" stroke="#3a5f86" stroke-width="0.6"/>
<circle cx="361.31" cy="261.60" r="1.25" fill="#ffffff" stroke="#3a5f86" stroke-width="0.6"/>
<circle cx="358.36" cy="266.00" r="1.25" fill="#ffffff" stroke="#3a5f86" stroke-width="0.6"/>
<circle cx="355.42" cy="270.47" r="1.25" fill="#ffffff" stroke="#3a5f86" stroke-width="0.6"/>
<circle cx="352.47" cy="274.93" r="1.25" fill="#ffffff" stroke="#3a5f86" stroke-width="0.6"/>
<circle cx="349.53" cy="279.40" r="1.25" fill="#ffffff" stroke="#3a5f86" stroke-width="0.6"/>
<circle cx="346.61" cy="283.70" r="1.25" fill="#ffffff" stroke="#3a5f86" stroke-width="0.6"/>
<circle cx="343.70" cy="288.00" r="1.25" fill="#ffffff" stroke="#3a5f86" stroke-width="0.6"/>
<circle cx="340.78" cy="292.30" r="1.25" fill="#ffffff" stroke="#3a5f86" stroke-width="0.6"/>
<circle cx="337.86" cy="296.53" r="1.25" fill="#ffffff" stroke="#3a5f86" stroke-width="0.6"/>
<circle cx="334.94" cy="300.77" r="1.25" fill="#ffffff" stroke="#3a5f86" stroke-width="0.6"/>
<path d="M429.20,177.40 L426.50,178.20 L424.00,179.50 L420.50,182.20 L416.50,186.00 L412.80,190.80 L409.00,196.20 L401.60,206.40 L394.20,216.60 L386.80,225.90 L379.40,235.30 L375.70,240.20 L369.20,249.00 L366.40,252.80 L357.10,266.00 L347.80,279.40 L338.60,292.30 L329.40,305.00" fill="none" stroke="#7a3886" stroke-width="1.5" stroke-linejoin="round" stroke-linecap="round" />
<circle cx="424.00" cy="179.50" r="1.15" fill="#a572b0" stroke="#4e2c6c" stroke-width="0.6"/>
<circle cx="420.50" cy="182.20" r="1.15" fill="#a572b0" stroke="#4e2c6c" stroke-width="0.6"/>
<circle cx="416.50" cy="186.00" r="1.15" fill="#a572b0" stroke="#4e2c6c" stroke-width="0.6"/>
<circle cx="412.80" cy="190.80" r="1.15" fill="#a572b0" stroke="#4e2c6c" stroke-width="0.6"/>
<circle cx="409.00" cy="196.20" r="1.15" fill="#a572b0" stroke="#4e2c6c" stroke-width="0.6"/>
<circle cx="406.53" cy="199.60" r="1.15" fill="#a572b0" stroke="#4e2c6c" stroke-width="0.6"/>
<circle cx="404.07" cy="203.00" r="1.15" fill="#a572b0" stroke="#4e2c6c" stroke-width="0.6"/>
<circle cx="401.60" cy="206.40" r="1.15" fill="#a572b0" stroke="#4e2c6c" stroke-width="0.6"/>
<circle cx="399.13" cy="209.80" r="1.15" fill="#a572b0" stroke="#4e2c6c" stroke-width="0.6"/>
<circle cx="396.67" cy="213.20" r="1.15" fill="#a572b0" stroke="#4e2c6c" stroke-width="0.6"/>
<circle cx="394.20" cy="216.60" r="1.15" fill="#a572b0" stroke="#4e2c6c" stroke-width="0.6"/>
<circle cx="391.73" cy="219.70" r="1.15" fill="#a572b0" stroke="#4e2c6c" stroke-width="0.6"/>
<circle cx="389.27" cy="222.80" r="1.15" fill="#a572b0" stroke="#4e2c6c" stroke-width="0.6"/>
<circle cx="386.80" cy="225.90" r="1.15" fill="#a572b0" stroke="#4e2c6c" stroke-width="0.6"/>
<circle cx="384.33" cy="229.03" r="1.15" fill="#a572b0" stroke="#4e2c6c" stroke-width="0.6"/>
<circle cx="381.87" cy="232.17" r="1.15" fill="#a572b0" stroke="#4e2c6c" stroke-width="0.6"/>
<circle cx="379.40" cy="235.30" r="1.15" fill="#a572b0" stroke="#4e2c6c" stroke-width="0.6"/>
<circle cx="375.70" cy="240.20" r="1.15" fill="#a572b0" stroke="#4e2c6c" stroke-width="0.6"/>
<circle cx="372.45" cy="244.60" r="1.15" fill="#a572b0" stroke="#4e2c6c" stroke-width="0.6"/>
<circle cx="369.20" cy="249.00" r="1.15" fill="#a572b0" stroke="#4e2c6c" stroke-width="0.6"/>
<circle cx="366.40" cy="252.80" r="1.15" fill="#a572b0" stroke="#4e2c6c" stroke-width="0.6"/>
<circle cx="364.07" cy="256.10" r="1.15" fill="#a572b0" stroke="#4e2c6c" stroke-width="0.6"/>
<circle cx="361.75" cy="259.40" r="1.15" fill="#a572b0" stroke="#4e2c6c" stroke-width="0.6"/>
<circle cx="359.43" cy="262.70" r="1.15" fill="#a572b0" stroke="#4e2c6c" stroke-width="0.6"/>
<circle cx="357.10" cy="266.00" r="1.15" fill="#a572b0" stroke="#4e2c6c" stroke-width="0.6"/>
<circle cx="354.78" cy="269.35" r="1.15" fill="#a572b0" stroke="#4e2c6c" stroke-width="0.6"/>
<circle cx="352.45" cy="272.70" r="1.15" fill="#a572b0" stroke="#4e2c6c" stroke-width="0.6"/>
<circle cx="350.12" cy="276.05" r="1.15" fill="#a572b0" stroke="#4e2c6c" stroke-width="0.6"/>
<circle cx="347.80" cy="279.40" r="1.15" fill="#a572b0" stroke="#4e2c6c" stroke-width="0.6"/>
<circle cx="345.50" cy="282.62" r="1.15" fill="#a572b0" stroke="#4e2c6c" stroke-width="0.6"/>
<circle cx="343.20" cy="285.85" r="1.15" fill="#a572b0" stroke="#4e2c6c" stroke-width="0.6"/>
<circle cx="340.90" cy="289.07" r="1.15" fill="#a572b0" stroke="#4e2c6c" stroke-width="0.6"/>
<circle cx="338.60" cy="292.30" r="1.15" fill="#a572b0" stroke="#4e2c6c" stroke-width="0.6"/>
<circle cx="336.30" cy="295.48" r="1.15" fill="#a572b0" stroke="#4e2c6c" stroke-width="0.6"/>
<circle cx="334.00" cy="298.65" r="1.15" fill="#a572b0" stroke="#4e2c6c" stroke-width="0.6"/>
<circle cx="331.70" cy="301.82" r="1.15" fill="#a572b0" stroke="#4e2c6c" stroke-width="0.6"/>
<rect x="250.2" y="172.6" width="179.40000000000003" height="132.4" fill="none" stroke="#4a4a4a" stroke-width="1.2"/>
<line x1="405.00" y1="187.50" x2="428.00" y2="187.50" stroke="#8a7152" stroke-width="0.9" />
<path d="M402.4,187.5 L407.8,185.5 L407.8,189.5 Z" fill="#8a7152"/>
<text x="358.80" y="197.60" font-size="9.1" fill="#1c1c1c" stroke="#1c1c1c" text-anchor="start" >10 mA cm<tspan dy="-3.0" font-size="66%">-2</tspan><tspan dy="3.0">&#8203;</tspan></text>
<text x="406.80" y="208.60" font-size="8.8" fill="#a47a58" stroke="#a47a58" text-anchor="start" >0 mV</text>
<line x1="340.00" y1="275.60" x2="363.60" y2="275.60" stroke="#8a7152" stroke-width="0.9" />
<path d="M337.4,275.6 L342.8,273.6 L342.8,277.6 Z" fill="#8a7152"/>
<text x="290.20" y="286.80" font-size="9.1" fill="#1c1c1c" stroke="#1c1c1c" text-anchor="start" >100 mA cm<tspan dy="-3.0" font-size="66%">-2</tspan><tspan dy="3.0">&#8203;</tspan></text>
<text x="353.40" y="287.40" font-size="9.0" fill="#a47a58" stroke="#a47a58" text-anchor="start" >8 mV</text>
<line x1="385.00" y1="287.40" x2="399.80" y2="287.40" stroke="#2e7a8c" stroke-width="1.1" />
<circle cx="392.40" cy="287.40" r="1.3" fill="#fff" stroke="#3a5f86" stroke-width="0.7"/>
<text x="403.60" y="290.60" font-size="8.6" fill="#1c1c1c" stroke="#1c1c1c" text-anchor="start" >1<tspan dy="-2.8" font-size="62%">st</tspan><tspan dy="2.8">&#8203;</tspan></text>
<line x1="385.00" y1="299.20" x2="399.80" y2="299.20" stroke="#84398a" stroke-width="1.2" />
<circle cx="392.40" cy="299.20" r="1.2" fill="#84398a" stroke="#84398a" stroke-width="0.7"/>
<text x="403.60" y="302.60" font-size="8.6" fill="#1c1c1c" stroke="#1c1c1c" text-anchor="start" >3000<tspan dy="-2.8" font-size="62%">th</tspan><tspan dy="2.8">&#8203;</tspan></text>
<g clip-path="url(#semclip)">
<rect x="253.8" y="187.3" width="84.80000000000001" height="63.29999999999998" fill="#171717"/>
<g filter="url(#semblur)">
<ellipse cx="266" cy="194" rx="10" ry="6.5" fill="#6a6a6a"/>
<ellipse cx="259" cy="198" rx="5" ry="4" fill="#444"/>
<ellipse cx="281" cy="190.5" rx="7" ry="3.5" fill="#6a6a6a"/>
<ellipse cx="301" cy="190" rx="6.5" ry="3.2" fill="#666"/>
<ellipse cx="270" cy="222" rx="8" ry="9" fill="#3d3d3d"/>
<ellipse cx="275" cy="235" rx="7" ry="8" fill="#454545"/>
<ellipse cx="265" cy="210" rx="5" ry="6" fill="#343434"/>
<ellipse cx="285" cy="245" rx="6" ry="5" fill="#404040"/>
</g>
<g filter="url(#semtex)">
<ellipse cx="263.5" cy="194.5" rx="7.5" ry="5" fill="#5c5c5c" stroke="#7a7a7a" stroke-width="0.8"/>
<ellipse cx="272.5" cy="198.5" rx="6.5" ry="5.5" fill="#5c5c5c" stroke="#7a7a7a" stroke-width="0.8"/>
<ellipse cx="279" cy="193" rx="5" ry="4" fill="#5c5c5c" stroke="#7a7a7a" stroke-width="0.8"/>
<ellipse cx="286.5" cy="203" rx="12.5" ry="11" fill="#8e8e8e" stroke="#c0c0c0" stroke-width="1.1"/>
<ellipse cx="298.5" cy="197.5" rx="10.5" ry="8.5" fill="#8e8e8e" stroke="#c0c0c0" stroke-width="1.1"/>
<ellipse cx="280" cy="208" rx="6" ry="7" fill="#8e8e8e" stroke="#c0c0c0" stroke-width="1.1"/>
<ellipse cx="308" cy="208" rx="9.5" ry="10.5" fill="#8e8e8e" stroke="#c0c0c0" stroke-width="1.1"/>
<ellipse cx="298" cy="213" rx="12.5" ry="10.5" fill="#8e8e8e" stroke="#c0c0c0" stroke-width="1.1"/>
<ellipse cx="303.5" cy="221.5" rx="7.5" ry="6.5" fill="#8e8e8e" stroke="#c0c0c0" stroke-width="1.1"/>
<ellipse cx="294.5" cy="238" rx="12.5" ry="11" fill="#8e8e8e" stroke="#c0c0c0" stroke-width="1.1"/>
<ellipse cx="290" cy="230" rx="7" ry="5" fill="#8e8e8e" stroke="#c0c0c0" stroke-width="1.1"/>
<ellipse cx="301" cy="244" rx="6" ry="5" fill="#8e8e8e" stroke="#c0c0c0" stroke-width="1.1"/>
<ellipse cx="295" cy="227" rx="6" ry="4" fill="#8e8e8e" stroke="#c0c0c0" stroke-width="1.1"/>
</g>
</g>
<text x="325.20" y="241.20" font-size="6.0" fill="#f4f4f4" stroke="#f4f4f4" text-anchor="middle" font-weight="bold" >500 nm</text>
<line x1="317.40" y1="244.80" x2="332.80" y2="244.80" stroke="#fafafa" stroke-width="1.6" />
<text x="432.60" y="173.80" font-size="16.2" fill="#111" stroke="#111" text-anchor="start" >(f)</text>
<path d="M547.50,187.80 L592.00,240.80 L547.50,293.80 L503.00,240.80 Z" fill="none" stroke="#cbcbd6" stroke-width="0.9" stroke-linejoin="round" stroke-linecap="round" stroke-dasharray="4 2.6"/>
<path d="M547.50,178.30 L600.50,240.80 L547.50,303.30 L494.50,240.80 Z" fill="none" stroke="#cbcbd6" stroke-width="0.9" stroke-linejoin="round" stroke-linecap="round" stroke-dasharray="4 2.6"/>
<path d="M547.50,172.30 L606.30,240.80 L547.50,309.30 L488.70,240.80 Z" fill="none" stroke="#cbcbd6" stroke-width="0.9" stroke-linejoin="round" stroke-linecap="round" stroke-dasharray="4 2.6"/>
<line x1="488.50" y1="240.80" x2="610.00" y2="240.80" stroke="#a99a9a" stroke-width="0.8" />
<line x1="547.50" y1="180.00" x2="547.50" y2="300.00" stroke="#a99a9a" stroke-width="0.8" />
<path d="M547.50,212.20 L556.70,240.80 L547.50,264.40 L508.10,240.80 Z" fill="none" stroke="#e6b565" stroke-width="0.9" stroke-linejoin="round" stroke-linecap="round" />
<path d="M547.50,190.60 L567.70,240.80 L547.50,287.10 L525.00,240.80 Z" fill="none" stroke="#2f558f" stroke-width="1.05" stroke-linejoin="round" stroke-linecap="round" />
<path d="M547.50,184.40 L581.30,240.80 L547.50,287.10 L517.20,240.80 Z" fill="none" stroke="#4ea468" stroke-width="1.05" stroke-linejoin="round" stroke-linecap="round" />
<path d="M547.50,183.00 L598.00,240.80 L547.50,292.10 L500.60,240.80 Z" fill="none" stroke="#84508a" stroke-width="1.05" stroke-linejoin="round" stroke-linecap="round" />
<circle cx="547.50" cy="212.20" r="1.4" fill="#e9b35a" stroke="#e9b35a" stroke-width="0.7"/>
<circle cx="556.70" cy="240.80" r="1.4" fill="#e9b35a" stroke="#e9b35a" stroke-width="0.7"/>
<circle cx="547.50" cy="264.40" r="1.4" fill="#e9b35a" stroke="#e9b35a" stroke-width="0.7"/>
<circle cx="508.10" cy="240.80" r="1.4" fill="#e9b35a" stroke="#e9b35a" stroke-width="0.7"/>
<circle cx="547.50" cy="183.00" r="1.6" fill="#8a5a6a" stroke="#8a5a6a" stroke-width="0.7"/>
<circle cx="598.00" cy="240.80" r="1.6" fill="#8a5a6a" stroke="#8a5a6a" stroke-width="0.7"/>
<circle cx="547.50" cy="292.10" r="1.6" fill="#8a5a6a" stroke="#8a5a6a" stroke-width="0.7"/>
<circle cx="500.60" cy="240.80" r="1.6" fill="#8a5a6a" stroke="#8a5a6a" stroke-width="0.7"/>
<circle cx="581.30" cy="240.80" r="2.0" fill="#4fa868" stroke="#4fa868" stroke-width="0.7"/>
<circle cx="517.20" cy="240.80" r="2.0" fill="#4fa868" stroke="#4fa868" stroke-width="0.7"/>
<circle cx="547.50" cy="287.10" r="2.0" fill="#4fa868" stroke="#4fa868" stroke-width="0.7"/>
<circle cx="547.50" cy="190.60" r="2.3" fill="#2756a5" stroke="#2756a5" stroke-width="0.7"/>
<circle cx="567.70" cy="240.80" r="2.3" fill="#2756a5" stroke="#2756a5" stroke-width="0.7"/>
<circle cx="525.00" cy="240.80" r="2.3" fill="#2756a5" stroke="#2756a5" stroke-width="0.7"/>
<circle cx="547.50" cy="287.10" r="2.0" fill="#3f6a74" stroke="#3f6a74" stroke-width="0.7"/>
<circle cx="546.0" cy="181.3" r="2.0" fill="#fff" stroke="#8a6a55" stroke-width="0.8"/>
<text x="494.00" y="248.20" font-size="5.6" fill="#4a4a4a" stroke="#4a4a4a" text-anchor="middle" >30</text>
<text x="512.00" y="248.20" font-size="5.6" fill="#4a4a4a" stroke="#4a4a4a" text-anchor="middle" >20</text>
<text x="529.60" y="248.20" font-size="5.6" fill="#4a4a4a" stroke="#4a4a4a" text-anchor="middle" >10</text>
<text x="547.50" y="248.20" font-size="5.6" fill="#4a4a4a" stroke="#4a4a4a" text-anchor="middle" >0</text>
<text x="566.60" y="238.60" font-size="5.6" fill="#4a4a4a" stroke="#4a4a4a" text-anchor="middle" >350</text>
<text x="590.60" y="238.60" font-size="5.6" fill="#4a4a4a" stroke="#4a4a4a" text-anchor="middle" >200</text>
<text x="542.60" y="197.40" font-size="5.6" fill="#4a4a4a" stroke="#4a4a4a" text-anchor="middle" >150</text>
<text x="542.40" y="214.20" font-size="5.6" fill="#4a4a4a" stroke="#4a4a4a" text-anchor="middle" >200</text>
<text x="543.00" y="230.40" font-size="5.6" fill="#4a4a4a" stroke="#4a4a4a" text-anchor="middle" >300</text>
<text x="555.00" y="253.80" font-size="5.6" fill="#4a4a4a" stroke="#4a4a4a" text-anchor="middle" >150</text>
<text x="555.00" y="270.40" font-size="5.6" fill="#4a4a4a" stroke="#4a4a4a" text-anchor="middle" >100</text>
<text x="553.40" y="288.00" font-size="5.6" fill="#4a4a4a" stroke="#4a4a4a" text-anchor="middle" >50</text>
<text x="549.60" y="304.40" font-size="5.6" fill="#4a4a4a" stroke="#4a4a4a" text-anchor="middle" >0</text>
<text x="514.20" y="174.80" font-size="10.5" fill="#1a1a1a" stroke="#1a1a1a" text-anchor="start" ><tspan font-style="italic">j</tspan><tspan dy="1.8" font-size="66%">10</tspan><tspan dy="-1.8">&#8203;</tspan> (mA cm<tspan dy="-3.0" font-size="62%">-2</tspan><tspan dy="3.0">&#8203;</tspan>)</text>
<text x="612.60" y="242.60" font-size="10" fill="#1a1a1a" stroke="#1a1a1a" text-anchor="start" ><tspan font-style="italic">j</tspan><tspan dy="1.8" font-size="66%">100</tspan><tspan dy="-1.8">&#8203;</tspan></text>
<text x="601.00" y="256.40" font-size="10.2" fill="#1a1a1a" stroke="#1a1a1a" text-anchor="start" >(mA cm<tspan dy="-3.0" font-size="62%">-2</tspan><tspan dy="3.0">&#8203;</tspan>)</text>
<text x="464.80" y="243.40" font-size="10.4" fill="#1a1a1a" stroke="#1a1a1a" text-anchor="start" >C<tspan dy="1.8" font-size="66%">dl</tspan><tspan dy="-1.8">&#8203;</tspan></text>
<text x="450.00" y="257.20" font-size="10.5" fill="#1a1a1a" stroke="#1a1a1a" text-anchor="start" >(mF cm<tspan dy="-3.0" font-size="62%">-2</tspan><tspan dy="3.0">&#8203;</tspan>)</text>
<text x="547.40" y="312.80" font-size="10.5" fill="#1a1a1a" stroke="#1a1a1a" text-anchor="middle" >Tafel slope (mV dec<tspan dy="-3.0" font-size="62%">-1</tspan><tspan dy="3.0">&#8203;</tspan>)</text>
<line x1="442.80" y1="187.50" x2="454.80" y2="187.50" stroke="#8b5a7b" stroke-width="1.0" stroke-dasharray="3 1.2"/>
<circle cx="448.80" cy="187.50" r="1.5" fill="#8a5a6a" stroke="#8a5a6a" stroke-width="0.7"/>
<text x="457.60" y="190.40" font-size="8.35" fill="#151515" stroke="#151515" text-anchor="start" >Ru-SAs@MoC/NCFs</text>
<line x1="442.80" y1="198.70" x2="454.80" y2="198.70" stroke="#e9b35a" stroke-width="1.0" stroke-dasharray="3 1.2"/>
<circle cx="448.80" cy="198.70" r="1.5" fill="#e9b35a" stroke="#e9b35a" stroke-width="0.7"/>
<text x="457.60" y="201.60" font-size="8.35" fill="#151515" stroke="#151515" text-anchor="start" >MoC/NCFs</text>
<line x1="442.80" y1="210.00" x2="454.80" y2="210.00" stroke="#4fa868" stroke-width="1.0" stroke-dasharray="3 1.2"/>
<circle cx="448.80" cy="210.00" r="2.0" fill="#4fa868" stroke="#4fa868" stroke-width="0.7"/>
<text x="457.60" y="212.90" font-size="8.35" fill="#151515" stroke="#151515" text-anchor="start" >Pt/C</text>
<line x1="442.80" y1="221.60" x2="454.80" y2="221.60" stroke="#2f5d9c" stroke-width="1.0" stroke-dasharray="3 1.2"/>
<circle cx="448.80" cy="221.60" r="2.2" fill="#2756a5" stroke="#2756a5" stroke-width="0.7"/>
<text x="457.60" y="224.50" font-size="8.35" fill="#151515" stroke="#151515" text-anchor="start" >Ru/C</text>
<text x="1.00" y="339.90" font-size="16.2" fill="#111" stroke="#111" text-anchor="start" >(g)</text>
<line x1="29.80" y1="495.80" x2="32.80" y2="495.80" stroke="#4a4a4a" stroke-width="1" />
<text x="29.00" y="498.70" font-size="8.5" fill="#1a1a1a" stroke="#1a1a1a" text-anchor="end" >0</text>
<line x1="29.80" y1="453.70" x2="32.80" y2="453.70" stroke="#4a4a4a" stroke-width="1" />
<text x="29.00" y="456.60" font-size="8.5" fill="#1a1a1a" stroke="#1a1a1a" text-anchor="end" >50</text>
<line x1="29.80" y1="411.60" x2="32.80" y2="411.60" stroke="#4a4a4a" stroke-width="1" />
<text x="29.00" y="414.50" font-size="8.5" fill="#1a1a1a" stroke="#1a1a1a" text-anchor="end" >100</text>
<line x1="29.80" y1="369.50" x2="32.80" y2="369.50" stroke="#4a4a4a" stroke-width="1" />
<text x="29.00" y="372.40" font-size="8.5" fill="#1a1a1a" stroke="#1a1a1a" text-anchor="end" >150</text>
<line x1="31.20" y1="474.75" x2="32.80" y2="474.75" stroke="#4a4a4a" stroke-width="0.8" />
<line x1="31.20" y1="432.65" x2="32.80" y2="432.65" stroke="#4a4a4a" stroke-width="0.8" />
<line x1="31.20" y1="390.55" x2="32.80" y2="390.55" stroke="#4a4a4a" stroke-width="0.8" />
<line x1="31.20" y1="348.45" x2="32.80" y2="348.45" stroke="#4a4a4a" stroke-width="0.8" />
<text x="13.00" y="405.30" font-size="12.3" fill="#1a1a1a" stroke="#1a1a1a" text-anchor="middle" transform="rotate(-90 13.00 405.30)" textLength="108.4" lengthAdjust="spacingAndGlyphs" >Overpotential (mV)</text>
<linearGradient id="bg0" x1="0" y1="0" x2="0" y2="1"><stop offset="0" stop-color="#c21d63"/><stop offset="0.2" stop-color="#c21d63"/><stop offset="1" stop-color="#ffffff"/></linearGradient>
<rect x="35.70" y="482.08" width="24.4" height="12.52" fill="url(#bg0)" stroke="#b4b4b4" stroke-width="0.7"/>
<rect x="36.10" y="482.48" width="23.599999999999998" height="12.12" fill="url(#sheen)"/>
<text x="0" y="0" font-size="10.1" fill="#b5367f" stroke="#b5367f" text-anchor="start" transform="translate(51.30 480.48) rotate(-90) scale(1.045 1)" >This work</text>
<linearGradient id="bg1" x1="0" y1="0" x2="0" y2="1"><stop offset="0" stop-color="#3f8fd6"/><stop offset="0.2" stop-color="#3f8fd6"/><stop offset="1" stop-color="#ffffff"/></linearGradient>
<rect x="66.06" y="482.08" width="24.4" height="12.52" fill="url(#bg1)" stroke="#b4b4b4" stroke-width="0.7"/>
<rect x="66.46" y="482.48" width="23.599999999999998" height="12.12" fill="url(#sheen)"/>
<text x="0" y="0" font-size="10.1" fill="#151515" stroke="#151515" text-anchor="start" transform="translate(81.66 480.48) rotate(-90) scale(1.045 1)" >Ru@Cu&#8211;TiO<tspan dy="1.9" font-size="70%">2</tspan><tspan dy="-1.9">&#8203;</tspan>/Cu</text>
<linearGradient id="bg2" x1="0" y1="0" x2="0" y2="1"><stop offset="0" stop-color="#a489c9"/><stop offset="0.2" stop-color="#a489c9"/><stop offset="1" stop-color="#ffffff"/></linearGradient>
<rect x="96.42" y="479.63" width="24.4" height="14.97" fill="url(#bg2)" stroke="#b4b4b4" stroke-width="0.7"/>
<rect x="96.82" y="480.03" width="23.599999999999998" height="14.57" fill="url(#sheen)"/>
<text x="0" y="0" font-size="10.1" fill="#151515" stroke="#151515" text-anchor="start" transform="translate(112.02 478.03) rotate(-90) scale(1.045 1)" >Ru NPs/NC-900</text>
<linearGradient id="bg3" x1="0" y1="0" x2="0" y2="1"><stop offset="0" stop-color="#f09b3a"/><stop offset="0.2" stop-color="#f09b3a"/><stop offset="1" stop-color="#ffffff"/></linearGradient>
<rect x="126.78" y="477.78" width="24.4" height="16.82" fill="url(#bg3)" stroke="#b4b4b4" stroke-width="0.7"/>
<rect x="127.18" y="478.18" width="23.599999999999998" height="16.42" fill="url(#sheen)"/>
<text x="0" y="0" font-size="10.1" fill="#151515" stroke="#151515" text-anchor="start" transform="translate(142.38 476.18) rotate(-90) scale(1.045 1)" >P,Mo-Ru@PC</text>
<linearGradient id="bg4" x1="0" y1="0" x2="0" y2="1"><stop offset="0" stop-color="#33a744"/><stop offset="0.2" stop-color="#33a744"/><stop offset="1" stop-color="#ffffff"/></linearGradient>
<rect x="157.14" y="477.78" width="24.4" height="16.82" fill="url(#bg4)" stroke="#b4b4b4" stroke-width="0.7"/>
<rect x="157.54" y="478.18" width="23.599999999999998" height="16.42" fill="url(#sheen)"/>
<text x="0" y="0" font-size="10.1" fill="#151515" stroke="#151515" text-anchor="start" transform="translate(172.74 476.18) rotate(-90) scale(1.045 1)" >Ru@Cr&#8211;FeMOF</text>
<linearGradient id="bg5" x1="0" y1="0" x2="0" y2="1"><stop offset="0" stop-color="#a9a53a"/><stop offset="0.2" stop-color="#a9a53a"/><stop offset="1" stop-color="#ffffff"/></linearGradient>
<rect x="187.50" y="474.75" width="24.4" height="19.85" fill="url(#bg5)" stroke="#b4b4b4" stroke-width="0.7"/>
<rect x="187.90" y="475.15" width="23.599999999999998" height="19.45" fill="url(#sheen)"/>
<text x="0" y="0" font-size="10.1" fill="#151515" stroke="#151515" text-anchor="start" transform="translate(203.10 473.15) rotate(-90) scale(1.045 1)" >Ru/&#945;-MoC</text>
<linearGradient id="bg6" x1="0" y1="0" x2="0" y2="1"><stop offset="0" stop-color="#1fa3ba"/><stop offset="0.2" stop-color="#1fa3ba"/><stop offset="1" stop-color="#ffffff"/></linearGradient>
<rect x="217.86" y="473.49" width="24.4" height="21.11" fill="url(#bg6)" stroke="#b4b4b4" stroke-width="0.7"/>
<rect x="218.26" y="473.89" width="23.599999999999998" height="20.71" fill="url(#sheen)"/>
<text x="0" y="0" font-size="10.1" fill="#151515" stroke="#151515" text-anchor="start" transform="translate(233.46 471.89) rotate(-90) scale(1.045 1)" >Ru c-SACs</text>
<linearGradient id="bg7" x1="0" y1="0" x2="0" y2="1"><stop offset="0" stop-color="#242424"/><stop offset="0.2" stop-color="#242424"/><stop offset="1" stop-color="#ffffff"/></linearGradient>
<rect x="248.22" y="471.38" width="24.4" height="23.22" fill="url(#bg7)" stroke="#b4b4b4" stroke-width="0.7"/>
<rect x="248.62" y="471.78" width="23.599999999999998" height="22.82" fill="url(#sheen)"/>
<text x="0" y="0" font-size="10.1" fill="#151515" stroke="#151515" text-anchor="start" transform="translate(263.82 469.78) rotate(-90) scale(1.045 1)" >Ru NCs/P,O-NiFe LDH/NF</text>
<linearGradient id="bg8" x1="0" y1="0" x2="0" y2="1"><stop offset="0" stop-color="#f47fb2"/><stop offset="0.2" stop-color="#f47fb2"/><stop offset="1" stop-color="#ffffff"/></linearGradient>
<rect x="278.58" y="470.88" width="24.4" height="23.72" fill="url(#bg8)" stroke="#b4b4b4" stroke-width="0.7"/>
<rect x="278.98" y="471.28" width="23.599999999999998" height="23.32" fill="url(#sheen)"/>
<text x="0" y="0" font-size="10.1" fill="#151515" stroke="#151515" text-anchor="start" transform="translate(294.18 469.28) rotate(-90) scale(1.045 1)" >pyrite-type RuSe<tspan dy="1.9" font-size="70%">2</tspan><tspan dy="-1.9">&#8203;</tspan></text>
<linearGradient id="bg9" x1="0" y1="0" x2="0" y2="1"><stop offset="0" stop-color="#b294d2"/><stop offset="0.2" stop-color="#b294d2"/><stop offset="1" stop-color="#ffffff"/></linearGradient>
<rect x="308.94" y="469.53" width="24.4" height="25.07" fill="url(#bg9)" stroke="#b4b4b4" stroke-width="0.7"/>
<rect x="309.34" y="469.93" width="23.599999999999998" height="24.67" fill="url(#sheen)"/>
<text x="0" y="0" font-size="10.1" fill="#151515" stroke="#151515" text-anchor="start" transform="translate(324.54 467.93) rotate(-90) scale(1.045 1)" >Pt-SA/Mo-L</text>
<linearGradient id="bg10" x1="0" y1="0" x2="0" y2="1"><stop offset="0" stop-color="#5fc3d6"/><stop offset="0.2" stop-color="#5fc3d6"/><stop offset="1" stop-color="#ffffff"/></linearGradient>
<rect x="339.30" y="465.99" width="24.4" height="28.61" fill="url(#bg10)" stroke="#b4b4b4" stroke-width="0.7"/>
<rect x="339.70" y="466.39" width="23.599999999999998" height="28.21" fill="url(#sheen)"/>
<text x="0" y="0" font-size="10.1" fill="#151515" stroke="#151515" text-anchor="start" transform="translate(354.90 464.39) rotate(-90) scale(1.045 1)" >MoO<tspan dy="1.9" font-size="70%">x</tspan><tspan dy="-1.9">&#8203;</tspan>/MoNi</text>
<linearGradient id="bg11" x1="0" y1="0" x2="0" y2="1"><stop offset="0" stop-color="#52b394"/><stop offset="0.2" stop-color="#52b394"/><stop offset="1" stop-color="#ffffff"/></linearGradient>
<rect x="369.66" y="460.94" width="24.4" height="33.66" fill="url(#bg11)" stroke="#b4b4b4" stroke-width="0.7"/>
<rect x="370.06" y="461.34" width="23.599999999999998" height="33.26" fill="url(#sheen)"/>
<text x="0" y="0" font-size="10.1" fill="#151515" stroke="#151515" text-anchor="start" transform="translate(385.26 459.34) rotate(-90) scale(1.045 1)" >Mo&#8211;RuCoO<tspan dy="1.9" font-size="70%">x</tspan><tspan dy="-1.9">&#8203;</tspan></text>
<linearGradient id="bg12" x1="0" y1="0" x2="0" y2="1"><stop offset="0" stop-color="#dddddd"/><stop offset="0.2" stop-color="#dddddd"/><stop offset="1" stop-color="#ffffff"/></linearGradient>
<rect x="400.02" y="456.23" width="24.4" height="38.37" fill="url(#bg12)" stroke="#b4b4b4" stroke-width="0.7"/>
<rect x="400.42" y="456.63" width="23.599999999999998" height="37.97" fill="url(#sheen)"/>
<text x="0" y="0" font-size="10.1" fill="#151515" stroke="#151515" text-anchor="end" transform="translate(415.62 391.60) rotate(-90) scale(1.03 1)" ><tspan dy="1.9" font-size="70%">2</tspan><tspan dy="-1.9">&#8203;</tspan>/CNTs</text>
<linearGradient id="bg13" x1="0" y1="0" x2="0" y2="1"><stop offset="0" stop-color="#dddddd"/><stop offset="0.2" stop-color="#dddddd"/><stop offset="1" stop-color="#ffffff"/></linearGradient>
<rect x="430.38" y="453.70" width="24.4" height="40.90" fill="url(#bg13)" stroke="#b4b4b4" stroke-width="0.7"/>
<rect x="430.78" y="454.10" width="23.599999999999998" height="40.50" fill="url(#sheen)"/>
<text x="0" y="0" font-size="10.1" fill="#151515" stroke="#151515" text-anchor="end" transform="translate(445.98 400.70) rotate(-90) scale(1.03 1)" >-Ni<tspan dy="1.9" font-size="70%">2</tspan><tspan dy="-1.9">&#8203;</tspan>P</text>
<linearGradient id="bg14" x1="0" y1="0" x2="0" y2="1"><stop offset="0" stop-color="#dddddd"/><stop offset="0.2" stop-color="#dddddd"/><stop offset="1" stop-color="#ffffff"/></linearGradient>
<rect x="460.74" y="451.17" width="24.4" height="43.43" fill="url(#bg14)" stroke="#b4b4b4" stroke-width="0.7"/>
<rect x="461.14" y="451.57" width="23.599999999999998" height="43.03" fill="url(#sheen)"/>
<text x="0" y="0" font-size="10.1" fill="#151515" stroke="#151515" text-anchor="end" transform="translate(476.34 376.90) rotate(-90) scale(1.03 1)" >NiPS<tspan dy="1.9" font-size="70%">3</tspan><tspan dy="-1.9">&#8203;</tspan> NSs</text>
<linearGradient id="bg15" x1="0" y1="0" x2="0" y2="1"><stop offset="0" stop-color="#dddddd"/><stop offset="0.2" stop-color="#dddddd"/><stop offset="1" stop-color="#ffffff"/></linearGradient>
<rect x="491.10" y="445.28" width="24.4" height="49.32" fill="url(#bg15)" stroke="#b4b4b4" stroke-width="0.7"/>
<rect x="491.50" y="445.68" width="23.599999999999998" height="48.92" fill="url(#sheen)"/>
<text x="0" y="0" font-size="10.1" fill="#151515" stroke="#151515" text-anchor="end" transform="translate(506.70 385.60) rotate(-90) scale(1.03 1)" >Mo<tspan dy="1.9" font-size="70%">2</tspan><tspan dy="-1.9">&#8203;</tspan>C/NG</text>
<linearGradient id="bg16" x1="0" y1="0" x2="0" y2="1"><stop offset="0" stop-color="#1d8f8f"/><stop offset="0.2" stop-color="#1d8f8f"/><stop offset="1" stop-color="#ffffff"/></linearGradient>
<rect x="521.46" y="419.43" width="24.4" height="75.17" fill="url(#bg16)" stroke="#b4b4b4" stroke-width="0.7"/>
<rect x="521.86" y="419.83" width="23.599999999999998" height="74.77" fill="url(#sheen)"/>
<text x="0" y="0" font-size="10.1" fill="#151515" stroke="#151515" text-anchor="end" transform="translate(537.06 341.90) rotate(-90) scale(1.03 1)" >He<tspan dy="1.9" font-size="70%">1e13</tspan><tspan dy="-1.9">&#8203;</tspan>-MoSe<tspan dy="1.9" font-size="70%">2</tspan><tspan dy="-1.9">&#8203;</tspan>-A</text>
<linearGradient id="bg17" x1="0" y1="0" x2="0" y2="1"><stop offset="0" stop-color="#ee8248"/><stop offset="0.2" stop-color="#ee8248"/><stop offset="1" stop-color="#ffffff"/></linearGradient>
<rect x="551.82" y="368.49" width="24.4" height="126.11" fill="url(#bg17)" stroke="#b4b4b4" stroke-width="0.7"/>
<rect x="552.22" y="368.89" width="23.599999999999998" height="125.71" fill="url(#sheen)"/>
<text x="0" y="0" font-size="10.1" fill="#151515" stroke="#151515" text-anchor="end" transform="translate(567.42 370.40) rotate(-90) scale(1.03 1)" >Ni-Mo<tspan dy="1.9" font-size="70%">2</tspan><tspan dy="-1.9">&#8203;</tspan>C-0.67</text>
<linearGradient id="bg18" x1="0" y1="0" x2="0" y2="1"><stop offset="0" stop-color="#f29a4c"/><stop offset="0.2" stop-color="#f29a4c"/><stop offset="1" stop-color="#ffffff"/></linearGradient>
<rect x="582.18" y="357.80" width="24.4" height="136.80" fill="url(#bg18)" stroke="#b4b4b4" stroke-width="0.7"/>
<rect x="582.58" y="358.20" width="23.599999999999998" height="136.40" fill="url(#sheen)"/>
<text x="0" y="0" font-size="10.1" fill="#151515" stroke="#151515" text-anchor="end" transform="translate(597.78 359.40) rotate(-90) scale(1.03 1)" >FD-MoS<tspan dy="1.9" font-size="70%">2</tspan><tspan dy="-1.9">&#8203;</tspan>-5</text>
<linearGradient id="bg19" x1="0" y1="0" x2="0" y2="1"><stop offset="0" stop-color="#9b4fb0"/><stop offset="0.2" stop-color="#9b4fb0"/><stop offset="1" stop-color="#ffffff"/></linearGradient>
<rect x="612.54" y="349.04" width="24.4" height="145.56" fill="url(#bg19)" stroke="#b4b4b4" stroke-width="0.7"/>
<rect x="612.94" y="349.44" width="23.599999999999998" height="145.16" fill="url(#sheen)"/>
<text x="0" y="0" font-size="10.1" fill="#151515" stroke="#151515" text-anchor="end" transform="translate(628.14 351.20) rotate(-90) scale(1.03 1)" >Mo-NiS</text>
<rect x="32.8" y="335.6" width="606.8000000000001" height="160.29999999999995" fill="none" stroke="#4a4a4a" stroke-width="1.2"/>
<rect x="396" y="426.5" width="251" height="73.5" fill="#ffffff"/>
<path d="M433.54,491.95 A24.9,24.9 0 1 1 450.19,477.23" fill="none" stroke="#1b1f7c" stroke-width="2.7"/>
<defs><linearGradient id="sw" x1="0" y1="0" x2="1" y2="1"><stop offset="0" stop-color="#3cc0f4"/><stop offset="1" stop-color="#1787e6"/></linearGradient></defs>
<path d="M405.5,470.7 C408.5,468.6 411.5,466.9 414.7,465.5 C418.3,463.9 422,462.8 425.5,462.5 C427.6,462.6 429.4,463.2 431,464.0 C433,465.0 434.8,466.2 436.4,467.5 C438.6,469.7 440.6,472.1 442.6,474.5 C445.1,477.2 447.6,479.8 450.3,482.2 C452.7,484.3 455.3,486.3 458.2,488.1 C456.2,489.2 454.1,490.0 451.8,490.7 C449.3,491.5 446.8,492.1 444.1,492.5 C441.6,492.9 439,493.0 436.4,493.0 C435.8,490.9 435,488.8 434,486.8 C433.1,484.7 432.1,482.6 431,480.6 C429.9,478.9 428.6,477.4 427.1,476.0 C425.7,474.8 424.2,473.7 422.5,472.9 C420.8,472.1 418.9,471.6 417,471.4 C415.2,471.3 413.4,471.3 411.6,471.4 C409.6,471.3 407.5,471.1 405.5,470.7 Z" fill="url(#sw)"/>
<path d="M425.3,462.3 C431.5,460.4 438.2,459.2 445.0,458.6 C441.5,460.8 438.6,462.4 435.8,463.8 C434.2,464.6 432.8,465.0 431.6,464.3 C429.8,463.2 427.6,462.5 425.3,462.3 Z" fill="#1b1f7c"/>
<path d="M405.2,471.2 C408.6,471.9 412.2,472.3 415.6,472.5 L408.6,478.6 Z" fill="#1b1f7c"/>
<g filter="url(#rough)">
<rect x="467.0" y="448.0" width="30.8" height="30.6" rx="5" ry="5" fill="#232323"/>
<rect x="502.4" y="448.0" width="30.8" height="30.6" rx="5" ry="5" fill="#232323"/>
<rect x="536.8" y="448.0" width="30.8" height="30.6" rx="5" ry="5" fill="#232323"/>
<rect x="570.2" y="448.0" width="30.8" height="30.6" rx="5" ry="5" fill="#232323"/>
<rect x="604.8" y="448.0" width="30.8" height="30.6" rx="5" ry="5" fill="#232323"/>
</g>
<text x="482.40" y="474.00" font-size="27.5" font-weight="bold" fill="#ffffff" stroke="#ffffff" text-anchor="middle" style="font-family:'Liberation Sans','Noto Sans CJK SC',sans-serif;stroke-width:0.5px">炎</text>
<text x="517.80" y="474.00" font-size="27.5" font-weight="bold" fill="#ffffff" stroke="#ffffff" text-anchor="middle" style="font-family:'Liberation Sans','Noto Sans CJK SC',sans-serif;stroke-width:0.5px">索</text>
<text x="552.20" y="474.00" font-size="27.5" font-weight="bold" fill="#ffffff" stroke="#ffffff" text-anchor="middle" style="font-family:'Liberation Sans','Noto Sans CJK SC',sans-serif;stroke-width:0.5px">新</text>
<text x="585.60" y="474.00" font-size="27.5" font-weight="bold" fill="#ffffff" stroke="#ffffff" text-anchor="middle" style="font-family:'Liberation Sans','Noto Sans CJK SC',sans-serif;stroke-width:0.5px">游</text>
<text x="620.20" y="474.00" font-size="27.5" font-weight="bold" fill="#ffffff" stroke="#ffffff" text-anchor="middle" style="font-family:'Liberation Sans','Noto Sans CJK SC',sans-serif;stroke-width:0.5px">网</text>
<line x1="466.40" y1="489.10" x2="513.40" y2="489.10" stroke="#222" stroke-width="1.4" />
<line x1="588.20" y1="489.10" x2="636.60" y2="489.10" stroke="#222" stroke-width="1.4" />
<text x="551.80" y="492.30" font-size="9.5" fill="#262626" stroke="#262626" text-anchor="middle" letter-spacing="0.28" style="stroke-width:0.4px">www.yenso.net</text>
</svg>
</body></html>
